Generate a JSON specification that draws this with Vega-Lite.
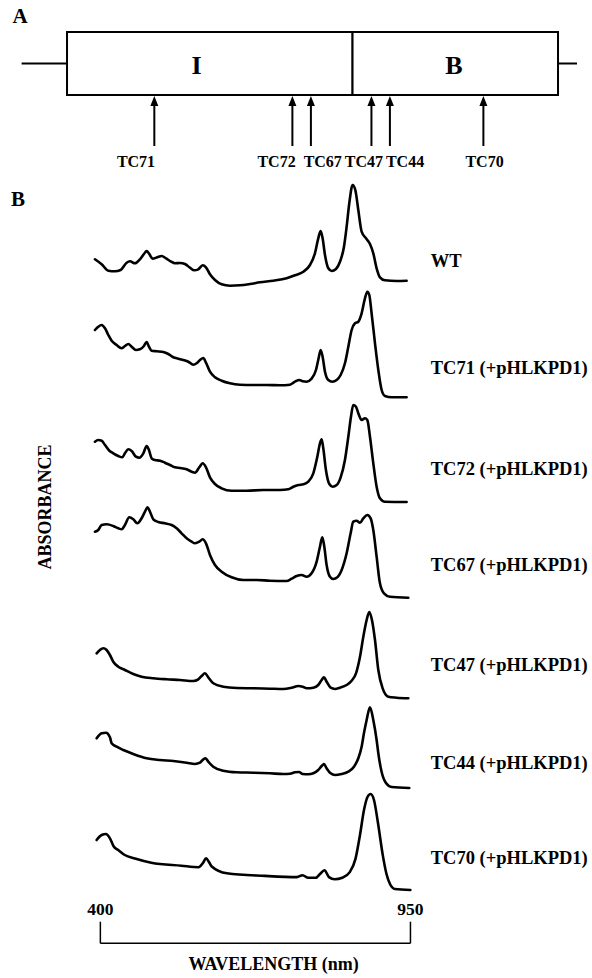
{
  "$schema": "https://vega.github.io/schema/vega-lite/v6.json",
  "padding": 0,
  "spacing": 0,
  "background": "white",
  "config": {"view": {"stroke": null}, "text": {"font": "Liberation Serif", "fontWeight": "bold", "color": "black"}},
  "datasets": {
    "flanks": [{"start": -9.25, "end": 0, "level": 11.15}, {"start": 100, "end": 103.87, "level": 11.15}],
    "domains": [{"domain": "I", "start": 0, "end": 58.15, "labelPos": 26.4}, {"domain": "B", "start": 58.15, "end": 100, "labelPos": 78.8}],
    "mutations": [
      {"mutant": "TC71", "pos": 17.78, "labelPos": 14.05},
      {"mutant": "TC72", "pos": 45.9, "labelPos": 42.67},
      {"mutant": "TC67", "pos": 49.67, "labelPos": 52.08},
      {"mutant": "TC47", "pos": 62.0, "labelPos": 60.47},
      {"mutant": "TC44", "pos": 65.76, "labelPos": 68.84},
      {"mutant": "TC70", "pos": 84.8, "labelPos": 85.03}
    ],
    "spectra": [
      {"sample":"WT","wl":390.4,"abs":7.187},{"sample":"WT","wl":402.3,"abs":7.137},{"sample":"WT","wl":414.1,"abs":7.073},{"sample":"WT","wl":425.9,"abs":7.067},{"sample":"WT","wl":435.9,"abs":7.08},{"sample":"WT","wl":446.6,"abs":7.153},{"sample":"WT","wl":452.5,"abs":7.167},{"sample":"WT","wl":461.4,"abs":7.147},{"sample":"WT","wl":470.2,"abs":7.187},{"sample":"WT","wl":477.3,"abs":7.24},{"sample":"WT","wl":482.1,"abs":7.27},{"sample":"WT","wl":486.8,"abs":7.24},{"sample":"WT","wl":492.7,"abs":7.193},{"sample":"WT","wl":501.0,"abs":7.207},{"sample":"WT","wl":508.7,"abs":7.22},{"sample":"WT","wl":516.4,"abs":7.197},{"sample":"WT","wl":524.6,"abs":7.167},{"sample":"WT","wl":532.3,"abs":7.147},{"sample":"WT","wl":541.2,"abs":7.15},{"sample":"WT","wl":550.1,"abs":7.14},{"sample":"WT","wl":558.9,"abs":7.103},{"sample":"WT","wl":566.6,"abs":7.077},{"sample":"WT","wl":573.7,"abs":7.087},{"sample":"WT","wl":581.4,"abs":7.127},{"sample":"WT","wl":587.3,"abs":7.107},{"sample":"WT","wl":594.4,"abs":7.037},{"sample":"WT","wl":603.3,"abs":6.98},{"sample":"WT","wl":615.1,"abs":6.937},{"sample":"WT","wl":629.9,"abs":6.923},{"sample":"WT","wl":647.6,"abs":6.927},{"sample":"WT","wl":665.3,"abs":6.94},{"sample":"WT","wl":683.1,"abs":6.957},{"sample":"WT","wl":706.7,"abs":6.973},{"sample":"WT","wl":730.4,"abs":6.997},{"sample":"WT","wl":745.2,"abs":7.027},{"sample":"WT","wl":760.0,"abs":7.063},{"sample":"WT","wl":771.8,"abs":7.13},{"sample":"WT","wl":780.6,"abs":7.247},{"sample":"WT","wl":786.5,"abs":7.397},{"sample":"WT","wl":790.7,"abs":7.47},{"sample":"WT","wl":794.2,"abs":7.397},{"sample":"WT","wl":798.4,"abs":7.23},{"sample":"WT","wl":804.3,"abs":7.097},{"sample":"WT","wl":810.2,"abs":7.07},{"sample":"WT","wl":817.9,"abs":7.09},{"sample":"WT","wl":825.0,"abs":7.163},{"sample":"WT","wl":832.1,"abs":7.313},{"sample":"WT","wl":836.8,"abs":7.513},{"sample":"WT","wl":841.5,"abs":7.747},{"sample":"WT","wl":847.4,"abs":7.93},{"sample":"WT","wl":852.2,"abs":7.88},{"sample":"WT","wl":857.5,"abs":7.68},{"sample":"WT","wl":863.4,"abs":7.463},{"sample":"WT","wl":871.1,"abs":7.397},{"sample":"WT","wl":878.2,"abs":7.34},{"sample":"WT","wl":884.1,"abs":7.247},{"sample":"WT","wl":890.0,"abs":7.097},{"sample":"WT","wl":895.9,"abs":7.007},{"sample":"WT","wl":904.8,"abs":6.977},{"sample":"WT","wl":925.5,"abs":6.97},{"sample":"WT","wl":943.2,"abs":6.973},
      {"sample":"TC71","wl":390.4,"abs":6.48},{"sample":"TC71","wl":396.3,"abs":6.513},{"sample":"TC71","wl":402.3,"abs":6.53},{"sample":"TC71","wl":408.2,"abs":6.497},{"sample":"TC71","wl":414.1,"abs":6.43},{"sample":"TC71","wl":420.0,"abs":6.373},{"sample":"TC71","wl":428.9,"abs":6.33},{"sample":"TC71","wl":437.7,"abs":6.297},{"sample":"TC71","wl":443.6,"abs":6.32},{"sample":"TC71","wl":449.6,"abs":6.34},{"sample":"TC71","wl":455.5,"abs":6.313},{"sample":"TC71","wl":463.1,"abs":6.28},{"sample":"TC71","wl":470.2,"abs":6.287},{"sample":"TC71","wl":477.3,"abs":6.32},{"sample":"TC71","wl":482.1,"abs":6.36},{"sample":"TC71","wl":486.2,"abs":6.313},{"sample":"TC71","wl":490.9,"abs":6.273},{"sample":"TC71","wl":499.8,"abs":6.267},{"sample":"TC71","wl":511.6,"abs":6.26},{"sample":"TC71","wl":520.5,"abs":6.24},{"sample":"TC71","wl":529.4,"abs":6.207},{"sample":"TC71","wl":538.2,"abs":6.193},{"sample":"TC71","wl":547.1,"abs":6.18},{"sample":"TC71","wl":556.0,"abs":6.163},{"sample":"TC71","wl":564.8,"abs":6.133},{"sample":"TC71","wl":570.7,"abs":6.147},{"sample":"TC71","wl":576.7,"abs":6.18},{"sample":"TC71","wl":582.6,"abs":6.2},{"sample":"TC71","wl":587.3,"abs":6.153},{"sample":"TC71","wl":594.4,"abs":6.063},{"sample":"TC71","wl":603.3,"abs":6.007},{"sample":"TC71","wl":615.1,"abs":5.973},{"sample":"TC71","wl":629.9,"abs":5.947},{"sample":"TC71","wl":647.6,"abs":5.933},{"sample":"TC71","wl":671.3,"abs":5.93},{"sample":"TC71","wl":694.9,"abs":5.93},{"sample":"TC71","wl":718.6,"abs":5.927},{"sample":"TC71","wl":736.3,"abs":5.933},{"sample":"TC71","wl":745.2,"abs":5.963},{"sample":"TC71","wl":752.9,"abs":5.98},{"sample":"TC71","wl":758.8,"abs":5.967},{"sample":"TC71","wl":765.9,"abs":5.963},{"sample":"TC71","wl":774.7,"abs":5.993},{"sample":"TC71","wl":782.4,"abs":6.08},{"sample":"TC71","wl":787.1,"abs":6.197},{"sample":"TC71","wl":790.7,"abs":6.28},{"sample":"TC71","wl":794.2,"abs":6.213},{"sample":"TC71","wl":798.4,"abs":6.063},{"sample":"TC71","wl":804.3,"abs":5.98},{"sample":"TC71","wl":811.4,"abs":5.963},{"sample":"TC71","wl":819.1,"abs":5.98},{"sample":"TC71","wl":826.2,"abs":6.03},{"sample":"TC71","wl":833.8,"abs":6.147},{"sample":"TC71","wl":839.8,"abs":6.313},{"sample":"TC71","wl":845.7,"abs":6.48},{"sample":"TC71","wl":851.6,"abs":6.547},{"sample":"TC71","wl":857.5,"abs":6.563},{"sample":"TC71","wl":863.4,"abs":6.647},{"sample":"TC71","wl":869.3,"abs":6.797},{"sample":"TC71","wl":873.5,"abs":6.863},{"sample":"TC71","wl":877.0,"abs":6.83},{"sample":"TC71","wl":881.1,"abs":6.647},{"sample":"TC71","wl":887.1,"abs":6.347},{"sample":"TC71","wl":893.0,"abs":6.08},{"sample":"TC71","wl":898.9,"abs":5.88},{"sample":"TC71","wl":904.8,"abs":5.82},{"sample":"TC71","wl":916.6,"abs":5.807},{"sample":"TC71","wl":943.2,"abs":5.807},
      {"sample":"TC72","wl":390.4,"abs":5.363},{"sample":"TC72","wl":396.3,"abs":5.38},{"sample":"TC72","wl":402.3,"abs":5.373},{"sample":"TC72","wl":408.2,"abs":5.33},{"sample":"TC72","wl":415.9,"abs":5.273},{"sample":"TC72","wl":422.9,"abs":5.247},{"sample":"TC72","wl":431.8,"abs":5.22},{"sample":"TC72","wl":438.9,"abs":5.207},{"sample":"TC72","wl":443.6,"abs":5.247},{"sample":"TC72","wl":449.6,"abs":5.287},{"sample":"TC72","wl":455.5,"abs":5.27},{"sample":"TC72","wl":463.1,"abs":5.213},{"sample":"TC72","wl":469.1,"abs":5.203},{"sample":"TC72","wl":476.2,"abs":5.247},{"sample":"TC72","wl":482.1,"abs":5.32},{"sample":"TC72","wl":486.2,"abs":5.28},{"sample":"TC72","wl":490.9,"abs":5.197},{"sample":"TC72","wl":496.8,"abs":5.18},{"sample":"TC72","wl":505.7,"abs":5.173},{"sample":"TC72","wl":514.6,"abs":5.153},{"sample":"TC72","wl":523.5,"abs":5.13},{"sample":"TC72","wl":532.3,"abs":5.107},{"sample":"TC72","wl":541.2,"abs":5.1},{"sample":"TC72","wl":553.0,"abs":5.087},{"sample":"TC72","wl":561.9,"abs":5.063},{"sample":"TC72","wl":567.8,"abs":5.053},{"sample":"TC72","wl":575.5,"abs":5.107},{"sample":"TC72","wl":581.4,"abs":5.147},{"sample":"TC72","wl":587.3,"abs":5.107},{"sample":"TC72","wl":594.4,"abs":5.007},{"sample":"TC72","wl":603.3,"abs":4.94},{"sample":"TC72","wl":615.1,"abs":4.897},{"sample":"TC72","wl":632.8,"abs":4.873},{"sample":"TC72","wl":659.4,"abs":4.873},{"sample":"TC72","wl":689.0,"abs":4.88},{"sample":"TC72","wl":718.6,"abs":4.88},{"sample":"TC72","wl":733.3,"abs":4.887},{"sample":"TC72","wl":742.2,"abs":4.913},{"sample":"TC72","wl":751.1,"abs":4.93},{"sample":"TC72","wl":760.0,"abs":4.937},{"sample":"TC72","wl":768.8,"abs":4.963},{"sample":"TC72","wl":777.7,"abs":5.047},{"sample":"TC72","wl":784.8,"abs":5.213},{"sample":"TC72","wl":789.5,"abs":5.347},{"sample":"TC72","wl":792.5,"abs":5.387},{"sample":"TC72","wl":795.4,"abs":5.297},{"sample":"TC72","wl":800.1,"abs":5.08},{"sample":"TC72","wl":806.1,"abs":4.94},{"sample":"TC72","wl":812.0,"abs":4.913},{"sample":"TC72","wl":819.1,"abs":4.93},{"sample":"TC72","wl":826.2,"abs":5.007},{"sample":"TC72","wl":833.8,"abs":5.18},{"sample":"TC72","wl":839.8,"abs":5.413},{"sample":"TC72","wl":844.5,"abs":5.613},{"sample":"TC72","wl":848.6,"abs":5.73},{"sample":"TC72","wl":853.4,"abs":5.713},{"sample":"TC72","wl":857.5,"abs":5.647},{"sample":"TC72","wl":863.4,"abs":5.58},{"sample":"TC72","wl":869.3,"abs":5.597},{"sample":"TC72","wl":873.5,"abs":5.58},{"sample":"TC72","wl":878.2,"abs":5.413},{"sample":"TC72","wl":884.1,"abs":5.147},{"sample":"TC72","wl":890.0,"abs":4.913},{"sample":"TC72","wl":895.9,"abs":4.797},{"sample":"TC72","wl":904.8,"abs":4.763},{"sample":"TC72","wl":943.2,"abs":4.76},
      {"sample":"TC67","wl":390.4,"abs":4.463},{"sample":"TC67","wl":396.3,"abs":4.48},{"sample":"TC67","wl":402.3,"abs":4.53},{"sample":"TC67","wl":411.1,"abs":4.537},{"sample":"TC67","wl":422.9,"abs":4.52},{"sample":"TC67","wl":431.8,"abs":4.497},{"sample":"TC67","wl":437.7,"abs":4.487},{"sample":"TC67","wl":443.6,"abs":4.53},{"sample":"TC67","wl":451.3,"abs":4.607},{"sample":"TC67","wl":458.4,"abs":4.587},{"sample":"TC67","wl":465.5,"abs":4.547},{"sample":"TC67","wl":473.2,"abs":4.597},{"sample":"TC67","wl":479.1,"abs":4.663},{"sample":"TC67","wl":483.8,"abs":4.707},{"sample":"TC67","wl":488.0,"abs":4.663},{"sample":"TC67","wl":493.9,"abs":4.587},{"sample":"TC67","wl":502.8,"abs":4.56},{"sample":"TC67","wl":514.6,"abs":4.547},{"sample":"TC67","wl":526.4,"abs":4.53},{"sample":"TC67","wl":535.3,"abs":4.497},{"sample":"TC67","wl":544.1,"abs":4.447},{"sample":"TC67","wl":553.0,"abs":4.397},{"sample":"TC67","wl":561.9,"abs":4.363},{"sample":"TC67","wl":567.8,"abs":4.347},{"sample":"TC67","wl":575.5,"abs":4.363},{"sample":"TC67","wl":581.4,"abs":4.387},{"sample":"TC67","wl":587.3,"abs":4.347},{"sample":"TC67","wl":594.4,"abs":4.23},{"sample":"TC67","wl":603.3,"abs":4.13},{"sample":"TC67","wl":615.1,"abs":4.063},{"sample":"TC67","wl":632.8,"abs":4.007},{"sample":"TC67","wl":653.5,"abs":3.98},{"sample":"TC67","wl":677.2,"abs":3.98},{"sample":"TC67","wl":700.8,"abs":3.973},{"sample":"TC67","wl":730.4,"abs":3.97},{"sample":"TC67","wl":739.3,"abs":3.993},{"sample":"TC67","wl":748.1,"abs":4.02},{"sample":"TC67","wl":757.0,"abs":4.03},{"sample":"TC67","wl":765.9,"abs":4.013},{"sample":"TC67","wl":774.7,"abs":4.047},{"sample":"TC67","wl":783.6,"abs":4.163},{"sample":"TC67","wl":789.5,"abs":4.313},{"sample":"TC67","wl":793.6,"abs":4.407},{"sample":"TC67","wl":797.2,"abs":4.313},{"sample":"TC67","wl":801.3,"abs":4.13},{"sample":"TC67","wl":807.2,"abs":4.013},{"sample":"TC67","wl":813.2,"abs":3.99},{"sample":"TC67","wl":820.3,"abs":4.007},{"sample":"TC67","wl":828.0,"abs":4.08},{"sample":"TC67","wl":836.8,"abs":4.247},{"sample":"TC67","wl":843.9,"abs":4.447},{"sample":"TC67","wl":848.6,"abs":4.563},{"sample":"TC67","wl":854.5,"abs":4.573},{"sample":"TC67","wl":860.5,"abs":4.553},{"sample":"TC67","wl":866.4,"abs":4.597},{"sample":"TC67","wl":873.5,"abs":4.63},{"sample":"TC67","wl":879.4,"abs":4.597},{"sample":"TC67","wl":884.1,"abs":4.48},{"sample":"TC67","wl":890.0,"abs":4.213},{"sample":"TC67","wl":895.9,"abs":3.947},{"sample":"TC67","wl":903.0,"abs":3.847},{"sample":"TC67","wl":913.7,"abs":3.813},{"sample":"TC67","wl":946.2,"abs":3.803},
      {"sample":"TC47","wl":393.4,"abs":3.247},{"sample":"TC47","wl":399.3,"abs":3.28},{"sample":"TC47","wl":405.2,"abs":3.297},{"sample":"TC47","wl":411.1,"abs":3.28},{"sample":"TC47","wl":417.0,"abs":3.23},{"sample":"TC47","wl":422.9,"abs":3.163},{"sample":"TC47","wl":431.8,"abs":3.113},{"sample":"TC47","wl":443.6,"abs":3.08},{"sample":"TC47","wl":458.4,"abs":3.04},{"sample":"TC47","wl":473.2,"abs":3.013},{"sample":"TC47","wl":493.9,"abs":2.997},{"sample":"TC47","wl":517.5,"abs":2.987},{"sample":"TC47","wl":541.2,"abs":2.98},{"sample":"TC47","wl":564.8,"abs":2.97},{"sample":"TC47","wl":573.7,"abs":2.987},{"sample":"TC47","wl":579.6,"abs":3.02},{"sample":"TC47","wl":585.5,"abs":3.047},{"sample":"TC47","wl":591.4,"abs":3.007},{"sample":"TC47","wl":600.3,"abs":2.947},{"sample":"TC47","wl":618.0,"abs":2.913},{"sample":"TC47","wl":641.7,"abs":2.9},{"sample":"TC47","wl":671.3,"abs":2.897},{"sample":"TC47","wl":700.8,"abs":2.893},{"sample":"TC47","wl":724.5,"abs":2.89},{"sample":"TC47","wl":739.3,"abs":2.903},{"sample":"TC47","wl":751.1,"abs":2.92},{"sample":"TC47","wl":758.8,"abs":2.913},{"sample":"TC47","wl":765.9,"abs":2.897},{"sample":"TC47","wl":777.7,"abs":2.903},{"sample":"TC47","wl":786.5,"abs":2.93},{"sample":"TC47","wl":792.5,"abs":2.98},{"sample":"TC47","wl":796.6,"abs":3.007},{"sample":"TC47","wl":801.3,"abs":2.963},{"sample":"TC47","wl":808.4,"abs":2.903},{"sample":"TC47","wl":816.1,"abs":2.89},{"sample":"TC47","wl":825.0,"abs":2.903},{"sample":"TC47","wl":836.8,"abs":2.93},{"sample":"TC47","wl":845.7,"abs":2.973},{"sample":"TC47","wl":853.4,"abs":3.047},{"sample":"TC47","wl":860.5,"abs":3.213},{"sample":"TC47","wl":866.4,"abs":3.413},{"sample":"TC47","wl":872.3,"abs":3.58},{"sample":"TC47","wl":877.0,"abs":3.66},{"sample":"TC47","wl":881.7,"abs":3.58},{"sample":"TC47","wl":887.1,"abs":3.38},{"sample":"TC47","wl":893.0,"abs":3.08},{"sample":"TC47","wl":900.7,"abs":2.897},{"sample":"TC47","wl":910.7,"abs":2.813},{"sample":"TC47","wl":925.5,"abs":2.803},{"sample":"TC47","wl":946.2,"abs":2.797},
      {"sample":"TC44","wl":393.4,"abs":2.397},{"sample":"TC44","wl":402.3,"abs":2.447},{"sample":"TC44","wl":409.9,"abs":2.453},{"sample":"TC44","wl":417.0,"abs":2.407},{"sample":"TC44","wl":420.0,"abs":2.347},{"sample":"TC44","wl":428.9,"abs":2.313},{"sample":"TC44","wl":440.7,"abs":2.28},{"sample":"TC44","wl":458.4,"abs":2.24},{"sample":"TC44","wl":482.1,"abs":2.197},{"sample":"TC44","wl":505.7,"abs":2.18},{"sample":"TC44","wl":529.4,"abs":2.17},{"sample":"TC44","wl":553.0,"abs":2.153},{"sample":"TC44","wl":567.8,"abs":2.14},{"sample":"TC44","wl":576.7,"abs":2.153},{"sample":"TC44","wl":582.6,"abs":2.187},{"sample":"TC44","wl":586.7,"abs":2.197},{"sample":"TC44","wl":591.4,"abs":2.163},{"sample":"TC44","wl":600.3,"abs":2.113},{"sample":"TC44","wl":618.0,"abs":2.073},{"sample":"TC44","wl":641.7,"abs":2.057},{"sample":"TC44","wl":671.3,"abs":2.053},{"sample":"TC44","wl":700.8,"abs":2.047},{"sample":"TC44","wl":724.5,"abs":2.04},{"sample":"TC44","wl":736.3,"abs":2.043},{"sample":"TC44","wl":745.2,"abs":2.057},{"sample":"TC44","wl":752.3,"abs":2.06},{"sample":"TC44","wl":758.8,"abs":2.04},{"sample":"TC44","wl":768.8,"abs":2.037},{"sample":"TC44","wl":777.7,"abs":2.047},{"sample":"TC44","wl":786.5,"abs":2.08},{"sample":"TC44","wl":792.5,"abs":2.12},{"sample":"TC44","wl":796.6,"abs":2.14},{"sample":"TC44","wl":801.3,"abs":2.097},{"sample":"TC44","wl":808.4,"abs":2.047},{"sample":"TC44","wl":816.1,"abs":2.03},{"sample":"TC44","wl":827.9,"abs":2.04},{"sample":"TC44","wl":839.8,"abs":2.063},{"sample":"TC44","wl":849.8,"abs":2.113},{"sample":"TC44","wl":857.5,"abs":2.197},{"sample":"TC44","wl":863.4,"abs":2.313},{"sample":"TC44","wl":867.5,"abs":2.447},{"sample":"TC44","wl":872.3,"abs":2.58},{"sample":"TC44","wl":878.2,"abs":2.707},{"sample":"TC44","wl":884.1,"abs":2.58},{"sample":"TC44","wl":890.0,"abs":2.38},{"sample":"TC44","wl":893.0,"abs":2.247},{"sample":"TC44","wl":898.9,"abs":2.06},{"sample":"TC44","wl":906.6,"abs":1.95},{"sample":"TC44","wl":916.6,"abs":1.91},{"sample":"TC44","wl":947.9,"abs":1.9},
      {"sample":"TC70","wl":393.4,"abs":1.38},{"sample":"TC70","wl":402.3,"abs":1.43},{"sample":"TC70","wl":409.9,"abs":1.44},{"sample":"TC70","wl":417.0,"abs":1.397},{"sample":"TC70","wl":423.2,"abs":1.32},{"sample":"TC70","wl":431.7,"abs":1.28},{"sample":"TC70","wl":443.3,"abs":1.23},{"sample":"TC70","wl":461.4,"abs":1.195},{"sample":"TC70","wl":490.3,"abs":1.153},{"sample":"TC70","wl":543.8,"abs":1.123},{"sample":"TC70","wl":574.2,"abs":1.108},{"sample":"TC70","wl":582.0,"abs":1.15},{"sample":"TC70","wl":587.5,"abs":1.198},{"sample":"TC70","wl":592.6,"abs":1.16},{"sample":"TC70","wl":597.6,"abs":1.115},{"sample":"TC70","wl":624.4,"abs":1.047},{"sample":"TC70","wl":691.6,"abs":1.021},{"sample":"TC70","wl":748.5,"abs":1.009},{"sample":"TC70","wl":758.6,"abs":1.028},{"sample":"TC70","wl":768.6,"abs":1.002},{"sample":"TC70","wl":782.1,"abs":1.002},{"sample":"TC70","wl":789.5,"abs":1.04},{"sample":"TC70","wl":797.5,"abs":1.077},{"sample":"TC70","wl":805.5,"abs":1.009},{"sample":"TC70","wl":815.6,"abs":0.987},{"sample":"TC70","wl":829.1,"abs":1.002},{"sample":"TC70","wl":842.4,"abs":1.059},{"sample":"TC70","wl":852.5,"abs":1.191},{"sample":"TC70","wl":860.5,"abs":1.43},{"sample":"TC70","wl":867.6,"abs":1.68},{"sample":"TC70","wl":873.8,"abs":1.81},{"sample":"TC70","wl":879.4,"abs":1.84},{"sample":"TC70","wl":885.3,"abs":1.78},{"sample":"TC70","wl":892.4,"abs":1.55},{"sample":"TC70","wl":900.9,"abs":1.229},{"sample":"TC70","wl":907.5,"abs":1.04},{"sample":"TC70","wl":913.7,"abs":0.94},{"sample":"TC70","wl":922.5,"abs":0.89},{"sample":"TC70","wl":949.8,"abs":0.88}
    ],
    "traceLabels": [
      {"label": "WT", "wl": 986, "abs": 7.17},
      {"label": "TC71 (+pHLKPD1)", "wl": 986, "abs": 6.1},
      {"label": "TC72 (+pHLKPD1)", "wl": 986, "abs": 5.09},
      {"label": "TC67 (+pHLKPD1)", "wl": 986, "abs": 4.13},
      {"label": "TC47 (+pHLKPD1)", "wl": 986, "abs": 3.13},
      {"label": "TC44 (+pHLKPD1)", "wl": 986, "abs": 2.15},
      {"label": "TC70 (+pHLKPD1)", "wl": 986, "abs": 1.2}
    ],
    "scaleBar": [{"wl": 400, "top": 0.563, "bottom": 0.347}, {"wl": 950, "top": 0.563, "bottom": 0.347}]
  },
  "vconcat": [
    {
      "width": 592,
      "height": 175,
      "layer": [
        {
          "data": {"name": "flanks"},
          "mark": {"type": "rule", "color": "black", "strokeWidth": 2},
          "encoding": {
            "x": {"field": "start", "type": "quantitative", "scale": {"domain": [-13.65, 106.92], "nice": false, "zero": false}, "axis": null},
            "x2": {"field": "end"},
            "y": {"field": "level", "type": "quantitative", "scale": {"domain": [0, 17.5], "nice": false, "zero": false}, "axis": null}
          }
        },
        {
          "data": {"name": "domains"},
          "mark": {"type": "rect", "fill": "white", "stroke": "black", "strokeWidth": 2},
          "encoding": {
            "x": {"field": "start", "type": "quantitative"},
            "x2": {"field": "end"},
            "y": {"datum": 8.0, "type": "quantitative"},
            "y2": {"datum": 14.3}
          }
        },
        {
          "data": {"name": "domains"},
          "mark": {"type": "text", "fontSize": 26, "baseline": "middle", "align": "center"},
          "encoding": {
            "x": {"field": "labelPos", "type": "quantitative"},
            "y": {"datum": 10.9, "type": "quantitative"},
            "text": {"field": "domain"}
          }
        },
        {
          "data": {"name": "mutations"},
          "mark": {"type": "rule", "color": "black", "strokeWidth": 2},
          "encoding": {
            "x": {"field": "pos", "type": "quantitative"},
            "y": {"datum": 2.9, "type": "quantitative"},
            "y2": {"datum": 7.0}
          }
        },
        {
          "data": {"name": "mutations"},
          "mark": {"type": "point", "shape": "M0,-1L0.4,0L-0.4,0Z", "size": 400, "filled": true, "color": "black", "opacity": 1},
          "encoding": {
            "x": {"field": "pos", "type": "quantitative"},
            "y": {"datum": 6.9, "type": "quantitative"}
          }
        },
        {
          "data": {"name": "mutations"},
          "mark": {"type": "text", "fontSize": 16, "baseline": "middle", "align": "center"},
          "encoding": {
            "x": {"field": "labelPos", "type": "quantitative"},
            "y": {"datum": 1.3, "type": "quantitative"},
            "text": {"field": "mutant"}
          }
        },
        {
          "data": {"values": [{"panel": "A", "x": -9.57, "y": 15.8}]},
          "mark": {"type": "text", "fontSize": 21, "baseline": "middle", "align": "center"},
          "encoding": {
            "x": {"field": "x", "type": "quantitative"},
            "y": {"field": "y", "type": "quantitative"},
            "text": {"field": "panel"}
          }
        }
      ]
    },
    {
      "width": 592,
      "height": 803,
      "layer": [
        {
          "data": {"name": "spectra"},
          "mark": {"type": "line", "color": "black", "strokeWidth": 2.6, "interpolate": "monotone", "strokeJoin": "round", "strokeCap": "round"},
          "encoding": {
            "x": {"field": "wl", "type": "quantitative", "scale": {"domain": [222, 1272], "nice": false, "zero": false}, "axis": null},
            "y": {"field": "abs", "type": "quantitative", "scale": {"domain": [0, 8.03], "nice": false, "zero": false}, "axis": null},
            "detail": {"field": "sample", "type": "nominal"}
          }
        },
        {
          "data": {"name": "traceLabels"},
          "mark": {"type": "text", "fontSize": 18.5, "baseline": "middle", "align": "left"},
          "encoding": {
            "x": {"field": "wl", "type": "quantitative"},
            "y": {"field": "abs", "type": "quantitative"},
            "text": {"field": "label"}
          }
        },
        {
          "data": {"name": "scaleBar"},
          "mark": {"type": "rule", "color": "black", "strokeWidth": 1.5},
          "encoding": {
            "x": {"field": "wl", "type": "quantitative"},
            "y": {"field": "top", "type": "quantitative"},
            "y2": {"field": "bottom"}
          }
        },
        {
          "data": {"values": [{"from": 400, "to": 950, "level": 0.347}]},
          "mark": {"type": "rule", "color": "black", "strokeWidth": 1.5},
          "encoding": {
            "x": {"field": "from", "type": "quantitative"},
            "x2": {"field": "to"},
            "y": {"field": "level", "type": "quantitative"}
          }
        },
        {
          "data": {"name": "scaleBar"},
          "mark": {"type": "text", "fontSize": 17.5, "baseline": "middle", "align": "center"},
          "encoding": {
            "x": {"field": "wl", "type": "quantitative"},
            "y": {"datum": 0.68, "type": "quantitative"},
            "text": {"field": "wl", "type": "quantitative"}
          }
        },
        {
          "data": {"values": [{"title": "WAVELENGTH (nm)", "x": 707.2, "y": 0.13, "angle": 0}, {"title": "ABSORBANCE", "x": 303.5, "y": 4.71, "angle": 270}]},
          "mark": {"type": "text", "fontSize": 18, "baseline": "middle", "align": "center"},
          "encoding": {
            "x": {"field": "x", "type": "quantitative"},
            "y": {"field": "y", "type": "quantitative"},
            "text": {"field": "title"},
            "angle": {"field": "angle", "type": "quantitative", "scale": null}
          }
        },
        {
          "data": {"values": [{"panel": "B", "x": 253.8, "y": 7.78}]},
          "mark": {"type": "text", "fontSize": 21, "baseline": "middle", "align": "center"},
          "encoding": {
            "x": {"field": "x", "type": "quantitative"},
            "y": {"field": "y", "type": "quantitative"},
            "text": {"field": "panel"}
          }
        }
      ]
    }
  ]
}
